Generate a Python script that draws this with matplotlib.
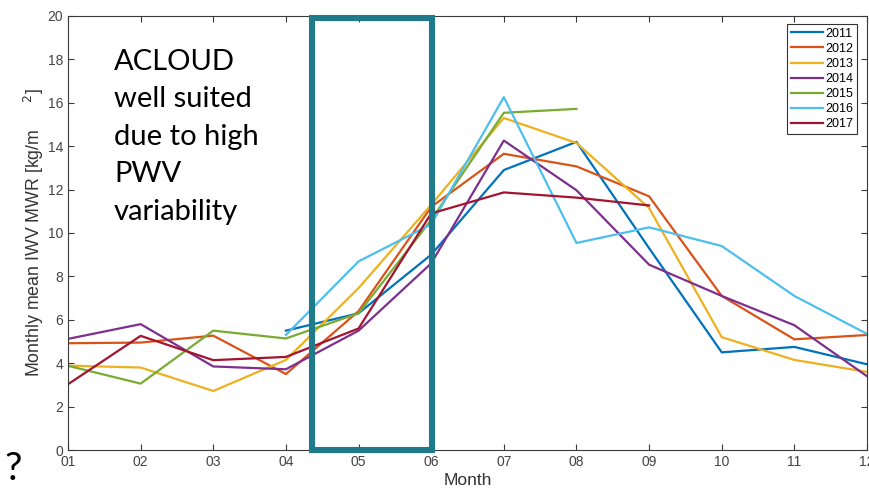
import matplotlib.pyplot as plt
from matplotlib.patches import Rectangle

# =========================
# DATA (monthly mean IWV, kg/m^2)
# =========================

month_labels = ['01', '02', '03', '04', '05', '06', '07', '08', '09', '10', '11', '12']
months = list(range(1, 13))

iwv_2011 = [None, None, None, 5.5, 6.3, 9.0, 12.9, 14.2, 9.3, 4.5, 4.75, 3.95]
iwv_2012 = [4.92, 4.95, 5.27, 3.5, 6.4, 11.2, 13.65, 13.07, 11.69, 7.1, 5.1, 5.3]
iwv_2013 = [3.89, 3.8, 2.72, 4.15, 7.46, 11.3, 15.3, 14.15, 11.15, 5.2, 4.15, 3.6]
iwv_2014 = [5.12, 5.8, 3.85, 3.72, 5.5, 8.6, 14.26, 11.97, 8.54, 7.1, 5.75, 3.4]
iwv_2015 = [3.88, 3.06, 5.5, 5.14, 6.3, 10.6, 15.54, 15.72, None, None, None, None]
iwv_2016 = [None, None, None, 5.3, 8.69, 10.4, 16.26, 9.54, 10.26, 9.4, 7.1, 5.35]
iwv_2017 = [3.03, 5.26, 4.14, 4.29, 5.6, 10.9, 11.87, 11.63, 11.27, None, None, None]

years = ['2011', '2012', '2013', '2014', '2015', '2016', '2017']
series = [iwv_2011, iwv_2012, iwv_2013, iwv_2014, iwv_2015, iwv_2016, iwv_2017]
colors = ['#0072BD', '#D95319', '#EDB120', '#7E2F8E', '#77AC30', '#4DBEEE', '#A2142F']

# highlighted period (ACLOUD campaign)
box_x0, box_x1 = 4.36, 6.015
box_y0, box_y1 = 0.0, 19.93

# =========================
# PLOT
# =========================

plt.rcParams['font.family'] = ['Liberation Sans', 'DejaVu Sans']
axis_color = '#3a3a3a'

fig = plt.figure(figsize=(8.69, 4.91), dpi=100)
ax = fig.add_axes([68 / 869, 1 - 450 / 491, (867 - 68) / 869, (450 - 16) / 491])

for year, vals, c in zip(years, series, colors):
    xs = [m for m, v in zip(months, vals) if v is not None]
    ys = [v for v in vals if v is not None]
    ax.plot(xs, ys, color=c, lw=1.6, label=year)

ax.set_xlim(1, 12)
ax.set_ylim(0, 20)
ax.set_xticks(months)
ax.set_xticklabels(month_labels)
ax.set_yticks(range(0, 21, 2))

ax.tick_params(direction='in', top=True, right=True, length=4, width=0.8,
               colors=axis_color, labelsize=10, labelcolor='#444444')
for s in ax.spines.values():
    s.set_color(axis_color)
    s.set_linewidth(0.8)

ax.set_xlabel('Month', fontsize=12.5, color='#333333', labelpad=3)
ax.set_ylabel(r'Monthly mean IWV MWR [kg/m$\quad\;\;^{2}$]', fontsize=12.8,
              color='#333333', labelpad=1)

leg = ax.legend(loc='upper right', fontsize=9, handlelength=2.6,
                handletextpad=0.15, labelspacing=0.25, borderpad=0.3,
                borderaxespad=0, fancybox=False, framealpha=1,
                bbox_to_anchor=(0.9875, 0.9816))
leg.get_frame().set_edgecolor('#333333')
leg.get_frame().set_linewidth(0.8)

# teal highlight box
ax.add_patch(Rectangle((box_x0, box_y0), box_x1 - box_x0, box_y1 - box_y0,
                       fill=False, edgecolor='#1F7A8C', lw=4.4,
                       joinstyle='miter', clip_on=False, zorder=5))

ax.text(0.0575, 0.925, 'ACLOUD\nwell suited\ndue to high\nPWV\nvariability',
        transform=ax.transAxes, ha='left', va='top', fontsize=21,
        family=['Lato', 'DejaVu Sans'], linespacing=1.55, color='black')

fig.text(4 / 869, 1 - 480 / 491, '?', fontsize=28, family=['Lato', 'DejaVu Sans'],
         ha='left', va='baseline', color='black')

plt.savefig('out.png', dpi=100)
plt.close()
